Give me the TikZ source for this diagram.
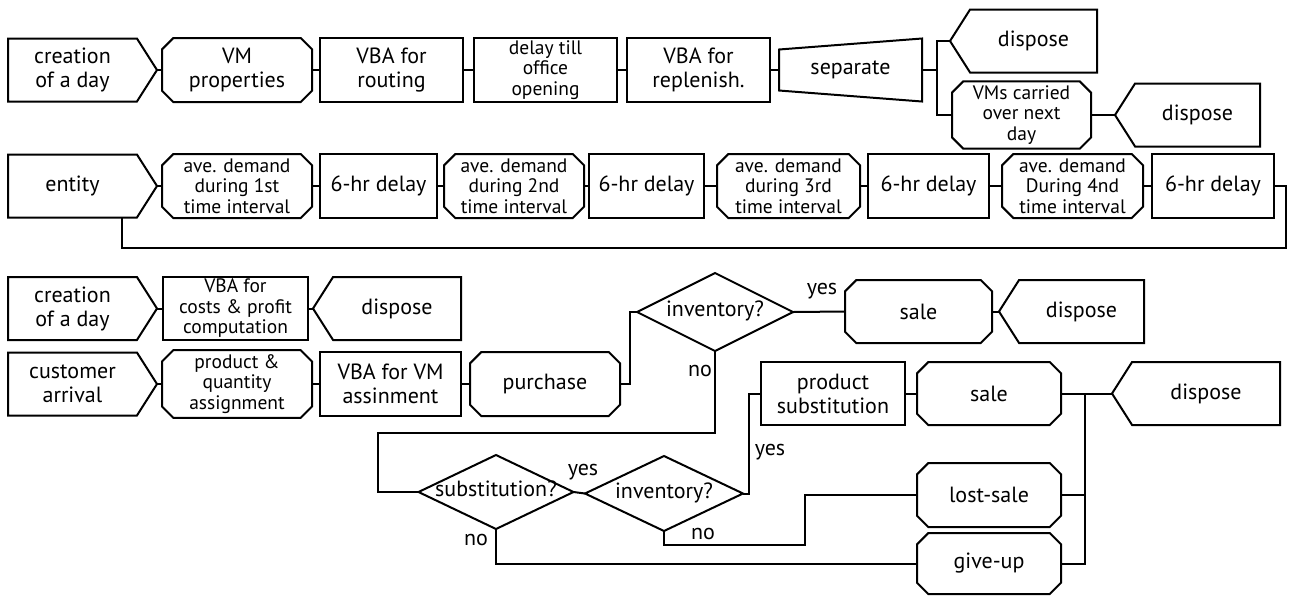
\documentclass[tikz,border=0pt]{standalone}
\usepackage{fontspec}
\setmainfont{PT Sans}
\usetikzlibrary{positioning}
\usetikzlibrary{shapes.misc}
\usetikzlibrary{shapes.geometric}
\usetikzlibrary{shapes.symbols}
\tikzset{
    basebox/.style = {draw, line width=2pt, align=center, inner sep=1pt, outer sep=0pt,
      font=\fontsize{22}{24}\selectfont},
    srcbox/.style = {basebox, signal, signal to=east, signal pointer angle=115, minimum height=63pt},
    dispbox/.style = {basebox, signal, signal to=west, signal pointer angle=115, minimum height=63pt},
    procbox/.style = {basebox, chamfered rectangle, chamfered rectangle xsep=8pt, minimum height=64pt},
    vbabox/.style = {basebox, rectangle, minimum height=64pt},
    decbox/.style = {basebox, diamond, aspect=2, inner sep=0pt, text height=9pt, text depth=0pt},
    threeline/.style = {font=\fontsize{19.5}{20.5}\selectfont},
    lbl/.style = {font=\fontsize{22}{24}\selectfont, inner sep=0pt}}

\begin{document}
\begin{tikzpicture}[x=1pt, y=-1pt, line width=2pt]
    \useasboundingbox (0,0) rectangle (1292,595);
    % day creation and routing
    \node[srcbox, minimum width=149pt, anchor=west] (cday1) at (8,70) {creation\\of a day};
    \node[procbox, minimum width=150pt, right=5pt of cday1] (vmprop) {VM\\properties};
    \node[vbabox, minimum width=143pt, right=8pt of vmprop] (vbarout) {VBA for\\routing};
    \node[vbabox, threeline, minimum width=143pt, right=11pt of vbarout] (delay) {delay till\\office\\opening};
    \node[vbabox, minimum width=143pt, right=10pt of delay] (vbarep) {VBA for\\replenish.};
    \node[basebox, draw=none, minimum width=143pt, minimum height=63pt, right=9pt of vbarep] (sep) {separate};
    \node[dispbox, minimum width=147pt, anchor=east] (disp1) at (1097,41) {dispose};
    \node[procbox, threeline, minimum width=139pt] (vmcarry) at (1021.5,115) {VMs carried\\over next\\day};
    \node[dispbox, minimum width=145pt, right=24pt of vmcarry] (disp2) {dispose};
    \draw (cday1.east) -- (vmprop.west);
    \draw (vmprop.east) -- (vbarout.west);
    \draw (vbarout.east) -- (delay.west);
    \draw (delay.east) -- (vbarep.west);
    \draw (vbarep.east) -- (sep.west);
    \draw ([yshift=-11pt]sep.north west) -- (sep.north east) -- (sep.south east)
      -- ([yshift=11pt]sep.south west) -- cycle;
    \draw (sep.east) -- ++(15,0) coordinate (sj);
    \draw (disp1.west) -| (sj) |- (vmcarry.west);
    \draw (vmcarry.east) -- (disp2.west);

    % demand per time interval
    \node[srcbox, minimum width=149pt, anchor=west] (entity) at (8,186) {entity};
    \node[procbox, threeline, minimum width=150pt, right=5pt of entity] (ave1) {ave. demand\\during 1st\\time interval};
    \node[vbabox, minimum width=117pt, right=8pt of ave1] (hr1) {6-hr delay};
    \node[procbox, threeline, minimum width=140pt, right=7pt of hr1] (ave2) {ave. demand\\during 2nd\\time interval};
    \node[vbabox, minimum width=115pt, right=5pt of ave2] (hr2) {6-hr delay};
    \node[procbox, threeline, minimum width=143pt, right=13pt of hr2] (ave3) {ave. demand\\during 3rd\\time interval};
    \node[vbabox, minimum width=121pt, right=8pt of ave3] (hr3) {6-hr delay};
    \node[procbox, threeline, minimum width=141pt, right=13pt of hr3] (ave4) {ave. demand\\During 4nd\\time interval};
    \node[vbabox, minimum width=122pt, right=9pt of ave4] (hr4) {6-hr delay};
    \draw (entity.east) -- (ave1.west);
    \draw (ave1.east) -- (hr1.west);
    \draw (hr1.east) -- (ave2.west);
    \draw (ave2.east) -- (hr2.west);
    \draw (hr2.east) -- (ave3.west);
    \draw (ave3.east) -- (hr3.west);
    \draw (hr3.east) -- (ave4.west);
    \draw (ave4.east) -- (hr4.west);
    \draw (hr4.east) -| ++(12,62) -| ([xshift=50pt]entity.south);

    % costs
    \node[srcbox, minimum width=149pt, anchor=west] (cday2) at (8,308.5) {creation\\of a day};
    \node[vbabox, threeline, minimum width=145pt, minimum height=63pt, right=6pt of cday2] (vbacost) {VBA for\\costs \& profit\\computation};
    \node[dispbox, minimum width=148pt, right=5pt of vbacost] (disp3) {dispose};
    \draw (cday2.east) -- (vbacost.west);
    \draw (vbacost.east) -- (disp3.west);

    % customers
    \node[srcbox, minimum width=149pt, anchor=west] (cust) at (8,384) {customer\\arrival};
    \node[procbox, threeline, minimum width=150pt, right=5pt of cust] (prodqty) {product \&\\quantity\\assignment};
    \node[vbabox, minimum width=141pt, right=8pt of prodqty] (vbavm) {VBA for VM\\assinment};
    \node[procbox, minimum width=150pt, right=9pt of vbavm] (purch) {purchase};
    \node[decbox, minimum width=156pt, minimum height=78pt] (inv1) at (715,312) {inventory?};
    \node[procbox, minimum width=147pt, minimum height=63pt] (sale1) at (918.5,311.5) {sale};
    \node[dispbox, minimum width=145pt, right=7pt of sale1] (disp4) {dispose};
    \node[vbabox, minimum width=144pt, minimum height=63pt] (prodsub) at (833,393.5) {product\\substitution};
    \node[procbox, minimum width=144pt, minimum height=63pt, right=12pt of prodsub] (sale2) {sale};
    \node[dispbox, minimum width=168pt, right=51pt of sale2] (disp5) {dispose};
    \node[decbox, minimum width=155pt, minimum height=74pt] (subq) at (496,492) {substitution?};
    \node[decbox, minimum width=158pt, minimum height=75pt] (inv2) at (664,493.5) {inventory?};
    \node[procbox, minimum width=144pt] (lost) at (989,495) {lost-sale};
    \node[procbox, minimum width=144pt, minimum height=61pt] (giveup) at (989,563.5) {give-up};
    \coordinate (bend1) at (378,433);
    \coordinate (mg) at ([xshift=24pt]sale2.east);
    \draw (cust.east) -- (prodqty.west);
    \draw (prodqty.east) -- (vbavm.west);
    \draw (vbavm.east) -- (purch.west);
    \draw (purch.east) -- ++(10,0) |- (inv1.west);
    \draw (inv1.east) -- (sale1.west);
    \draw (sale1.east) -- (disp4.west);
    \draw (inv1.south) |- (bend1) |- (subq.west);
    \draw (subq.east) -- (inv2.west);
    \draw (inv2.east) -- ++(6,0) |- (prodsub.west);
    \draw (prodsub.east) -- (sale2.west);
    \draw (sale2.east) -- (disp5.west);
    \draw (inv2.south) -- ++(0,14) -| ([xshift=-112pt]lost.west) -- (lost.west);
    \draw (subq.south) |- (giveup.west);
    \draw (lost.east) -| (mg);
    \draw (giveup.east) -| (mg);
    \node[lbl] (yes1) at (822,291) {yes};
    \node[lbl] (no1) at (700,371) {no};
    \node[lbl] (yes2) at (583,472) {yes};
    \node[lbl] (yes3) at (770,452) {yes};
    \node[lbl] (no2) at (703,534) {no};
    \node[lbl] (no3) at (476,540) {no};
\end{tikzpicture}
\end{document}
